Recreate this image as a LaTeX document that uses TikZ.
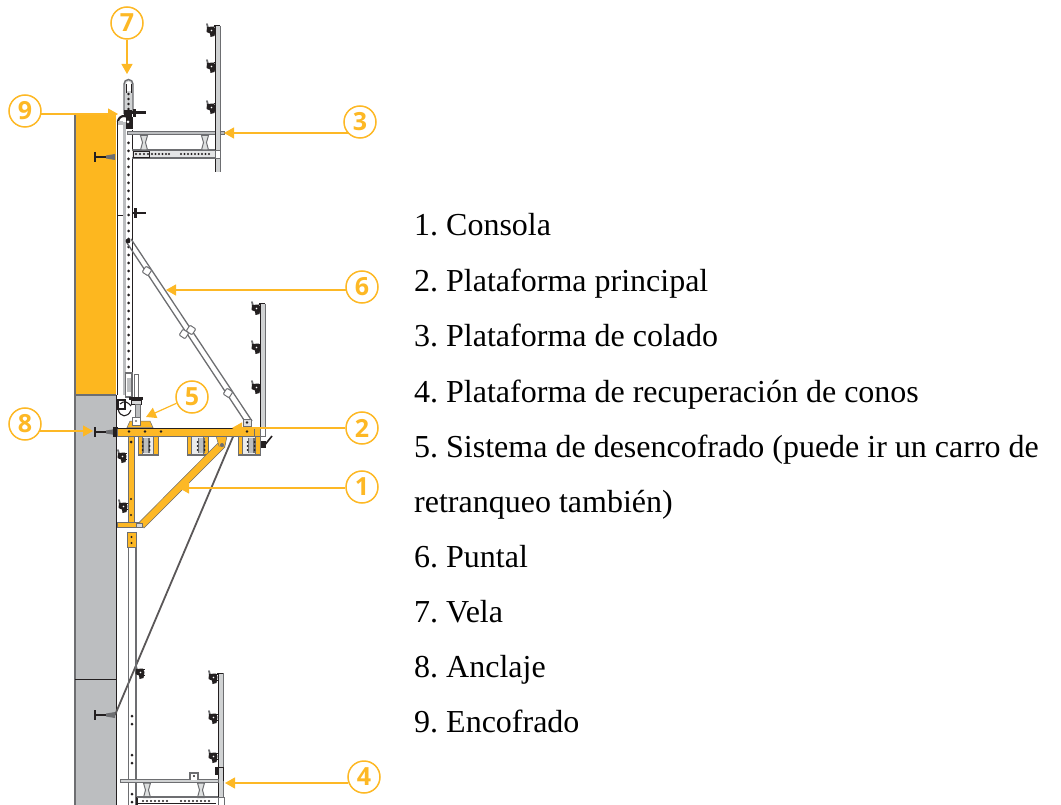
\documentclass[tikz,border=0pt]{standalone}
\usepackage{fontspec}
\setmainfont{Liberation Serif}
\newfontfamily\numfont{Open Sans}
\usetikzlibrary{arrows.meta}
\definecolor{accent}{HTML}{FDB825}
\definecolor{wallorange}{HTML}{FDB71F}
\definecolor{wallgrey}{HTML}{BCBEC0}
\definecolor{steel}{HTML}{6D6E71}
\definecolor{ink}{HTML}{231F20}
\tikzset{
  callout/.style={circle,draw=accent,line width=1.5pt,minimum size=32pt,inner sep=0pt,text=accent,font=\numfont\bfseries\fontsize{25}{25}\selectfont},
  leader/.style={draw=accent,line width=1.2pt,-{Triangle[length=10pt,width=11pt,fill=accent]}},
  legend/.style={anchor=base west,inner sep=0pt,font=\frenchspacing\fontsize{32}{33}\selectfont,text=black},
  steelline/.style={draw=steel,line width=1.1pt},
  orangepart/.style={fill=accent,draw=steel,line width=.5pt},
}
\newcommand{\clampmark}[2]{%
  \begin{scope}[shift={(#1,#2)}]
    \draw[steel,line width=1.8pt,line cap=round] (-4,-6) -- (-3,-2);
    \fill[ink] (-4,-3) -- (3,-3.5) -- (4.5,0) -- (3.5,6) -- (-.5,7) -- (-1,3.5) -- (-4.5,2) -- cycle;
    \fill[white] (.5,.5) circle (.9);
    \draw[ink,line width=1pt] (3,-3) -- (4.5,-3);
    \draw[ink,line width=1pt] (3,3) -- (4.5,3);
  \end{scope}}
\newcommand{\anchormark}[2]{%
  \begin{scope}[shift={(#1,#2)}]
    \draw[ink,line width=1.6pt] (0,-5) -- (0,5);
    \draw[ink,line width=1.6pt] (0,0) -- (12,0);
    \fill[steel] (11,-1.5) -- (20,-3) -- (20,3) -- (11,1.5) -- cycle;
  \end{scope}}
\newcommand{\railpanel}[3]{%
  \fill[wallgrey!70] (#1+.5,#2) rectangle (#1+4,#3);
  \draw[ink,line width=1pt] (#1,#2) -- (#1,#3);
  \draw[steel,line width=.8pt] (#1+4.5,#2) -- (#1+4.5,#3);
  \draw[ink,line width=1pt] (#1-1.5,#2) -- (#1+4.5,#2);
}
\newcommand{\ipost}[2]{%
  \draw[steel,fill=wallgrey!50,line width=1pt] (#1-3.5,#2) -- (#1+3.5,#2) -- (#1+1.5,#2+7) -- (#1+3.5,#2+14.5) -- (#1-3.5,#2+14.5) -- (#1-1.5,#2+7) -- cycle;}
\begin{document}
\begin{tikzpicture}[x=1pt,y=-1pt]
\useasboundingbox (0,0) rectangle (1061,805);
% wall
\fill[wallorange] (75,114) rectangle (116,395);
\fill[wallgrey] (75,395) rectangle (116,805);
\draw[steel,line width=1.4pt] (75,114) -- (75,805);
\draw[ink,line width=1pt] (75,114) -- (116,114);
\draw[steel,line width=1.1pt] (75,395) -- (116,395);
\draw[ink,line width=.7pt] (75,679) -- (116,679);
\draw[ink,line width=1.1pt] (116.5,395) -- (116.5,805);
% upper formwork skin
\draw[ink,line width=.9pt] (117,122) -- (117,395);
\fill[wallgrey] (122.5,122) rectangle (125.5,395);
\draw[ink,line width=.7pt] (117,215) -- (122.5,215);
% upper mast
\draw[ink,line width=1.1pt] (132.3,130) -- (132.3,395);
\foreach \y in {143,151,...,372} \fill[ink] (128.5,\y) circle (1.5);
% vela
\fill[wallgrey!70] (124,84) arc[start angle=180,end angle=360,radius=4.5] -- (133,114) -- (124,114) -- cycle;
\draw[steel,line width=1.4pt] (124,114) -- (124,84) arc[start angle=180,end angle=360,radius=4.5] -- (133,114);
\fill[white] (126,84) arc[start angle=180,end angle=360,radius=2.5] -- (131,91) -- (126,91) -- cycle;
\draw[ink,line width=.8pt] (131,84) -- (131,93);
\draw[ink,line width=.7pt] (126,84) -- (126,93);
\foreach \y in {94,99,104,109} \fill[ink] (128.5,\y) circle (1.4);
% top head
\fill[ink] (124,110) rectangle (132,117);
\fill[white] (117.5,120) rectangle (122.5,128);
\draw[ink,line width=2.2pt] (118,122) arc[start angle=180,end angle=360,radius=6];
\fill[wallgrey] (117.5,121) rectangle (123,125);
\fill[ink] (126,117) rectangle (132.5,129);
\fill[white] (128,122) circle (1.5);
\fill[ink] (132,111) rectangle (146,114);
\fill[ink] (133,109) rectangle (136,117);
% upper platform
\draw[steel,fill=wallgrey,line width=.7pt] (127,131.5) rectangle (224,134.5);
\railpanel{215.5}{26}{172}
\fill[white,draw=steel,line width=.8pt] (215,150) rectangle (220,158);
\clampmark{211}{30}\clampmark{211}{66}\clampmark{211}{107}
\fill[wallgrey!40] (132,150.5) rectangle (215,157.5);
\draw[steelline] (132,150) -- (215,150);
\draw[steelline] (132,158) -- (215,158);
\draw[ink,line width=.9pt] (133,151) rectangle (149,157);
\foreach \x in {136,140,144,148,152,155.5,159,162.5,166,169,181,184.5,188,191.5,195,198.5,202,205.5,209} \fill[ink] (\x,154) circle (1.1);
\ipost{144}{135.5}\ipost{205}{135.5}
% brace and lower parts of mast
\anchormark{95}{157}
\fill[ink] (133,212) rectangle (146,214);
\fill[ink] (134,208) rectangle (137,218);
% strut 6
\draw[steelline,line width=1.3pt] (131,239) -- (252,421);
\draw[steelline,line width=1.3pt] (127,243) -- (246,423);
\fill[ink] (128,241) circle (2.4);
\foreach \x/\y in {147/271,191/330,184/334,228/393}
  \draw[steel,fill=white,line width=1pt,rotate around={-33:(\x,\y)},rounded corners=1pt] (\x-3.5,\y-3.5) rectangle (\x+3.5,\y+3.5);
\fill[wallgrey!50,draw=steel,line width=.7pt] (243,419) rectangle (251,426);
\fill[ink] (247,422.5) circle (1.3);
% middle rail
\railpanel{260.5}{304}{428}
\clampmark{256}{308}\clampmark{256}{347}\clampmark{256}{387}
% mast shoe
\draw[steelline,fill=white] (125.5,373) rectangle (132,397);
\fill[wallgrey] (126.5,378) rectangle (131,392);
\draw[steelline,fill=white,line width=.9pt] (134,374) rectangle (138,397);
\fill[ink] (129,397) rectangle (143,400);
\fill[wallgrey!60,draw=ink,line width=.8pt] (131,400) rectangle (141,404);
\draw[ink,line width=1.3pt,fill=white] (118,400) rectangle (125,409);
\draw[ink,line width=1.1pt] (118,409) .. controls (120,418) and (128,418) .. (131,410);
\draw[ink,line width=1.1pt] (120,404) .. controls (124,400) and (128,402) .. (131,406);
\fill[wallgrey,draw=steel,line width=.8pt] (135,404) rectangle (140,418);
% cable
\draw[ink!75,line width=1.8pt] (235,432) -- (115,715);
\anchormark{95}{715}
\anchormark{95}{432}
\fill[ink] (113,427) rectangle (118,437);
% lower column
\draw[steel,line width=.8pt] (128,547) -- (128,805);
\draw[steel,line width=1.1pt] (136,547) -- (136,805);
\foreach \y in {716,724,755,763,794,802} \fill[ink] (132,\y) circle (1.5);
\clampmark{140}{672}
% main platform orange
\foreach \a/\b/\c in {138/158/146,187/208/201,238/260/251}{
  \fill[wallgrey!30] (\a,436) rectangle (\b,455);
  \draw[orangepart] (\a,436) rectangle (\a+4.5,455);
  \draw[orangepart] (\b-4.5,436) rectangle (\b,455);
  \draw[steel,line width=1.1pt] (\a,455) -- (\b,455);
  \fill[steel] (\c-3.5,438) rectangle (\c+3.5,453);
  \fill[wallgrey] (\c-1.6,438) rectangle (\c+1.6,453);
  \foreach \y in {442,446,450} \fill[ink] (\c-3.5,\y) circle (1) (\c+3.5,\y) circle (1);
}
\draw[orangepart] (128,436) rectangle (134,523);
\draw[orangepart] (117,522) rectangle (140,527);
\draw[orangepart] (139.5,522) -- (219,442) -- (225,447) -- (144,528) -- cycle;
\draw[orangepart] (216,436) -- (227,436) -- (225,446) -- (219,446) -- cycle;
\fill[steel] (222,445) circle (2);
\draw[orangepart] (117,428) rectangle (260,436);
\draw[ink,line width=1pt] (117,428) -- (260,428);
\foreach \x in {129,145,161,247} \fill[ink] (\x,431.5) circle (1.4);
\draw[orangepart] (127,532) rectangle (136,547);
\foreach \y in {537,543} \fill[ink] (131.5,\y) circle (1.1);
\fill[ink] (131,515) circle (1.1);
\fill[ink] (131,499) circle (1.1);
\fill[ink] (131,442) circle (1.5);
\draw[steel,fill=wallgrey!60,line width=.8pt] (136,523) rectangle (142,527);
\draw[orangepart] (127,427.5) -- (130,421) -- (150,421) -- (153,427.5) -- cycle;
\fill[white,draw=steel,line width=.8pt] (132,417) rectangle (140,425);
\fill[steel] (136,421) circle (1.2);
\clampmark{122}{456}\clampmark{123}{506}
\draw[steel,line width=1pt] (254,428) rectangle (265,436);
\draw[ink,line width=1.6pt] (264,446) -- (272,436);
\fill[ink] (261,441) rectangle (266,448);
% lower platform
\railpanel{218.5}{673}{805}
\clampmark{213}{677}\clampmark{213}{717}\clampmark{213}{756}
\draw[ink,line width=1pt] (215,767) -- (223,767) -- (223,781);
\fill[ink] (215,767) rectangle (218,775);
\fill[wallgrey!70,draw=steel,line width=.9pt] (120,779.5) rectangle (218,782.5);
\draw[steelline,fill=white] (190,780) -- (190,773) -- (198,773) -- (198,780);
\fill[ink] (194,776) circle (1.1);
\ipost{147}{783}\ipost{201}{783}
\draw[ink,line width=1.1pt] (137,797) -- (137,805);
\draw[steelline] (137,797) -- (218,797);
\draw[ink,line width=.9pt] (137,803.5) -- (216,803.5);
\foreach \x in {143,147,...,170,181,185,...,210} \fill[ink] (\x,801) circle (1.1);
\fill[white,draw=steel,line width=.9pt] (218,797) rectangle (224,805);
% callouts
\node[callout] (c7) at (127,23) {7};
\node[callout] (c9) at (25,111) {9};
\node[callout] (c3) at (360,122) {3};
\node[callout] (c6) at (362,287) {6};
\node[callout] (c5) at (192,397) {5};
\node[callout] (c2) at (362,428) {2};
\node[callout] (c1) at (362,487) {1};
\node[callout] (c8) at (25,424) {8};
\node[callout] (c4) at (364,777) {4};
\coordinate (t7) at (127,74);
\coordinate (t9) at (118,114);
\coordinate (t3) at (224,133);
\coordinate (t6) at (166,290);
\coordinate (t5) at (146,417);
\coordinate (t2) at (232,428);
\coordinate (t1) at (179,488);
\coordinate (t8) at (93,431);
\coordinate (t4) at (225,783);
\draw[leader] (c7.south) -- (t7);
\draw[leader] (c9.-10 |- t9) -- (t9);
\draw[leader] (c3.223 |- t3) -- (t3);
\draw[leader] (c6.190 |- t6) -- (t6);
\draw[leader] (c5.202) -- (t5);
\draw[leader] (c2.180) -- (t2);
\draw[leader] (c1.184 |- t1) -- (t1);
\draw[leader] (c8.-26 |- t8) -- (t8);
\draw[leader] (c4.202 |- t4) -- (t4);
% legend
\node[legend] (l1) at (414,236) {1. Consola};
\node[legend] (l2) at (414,291) {2. Plataforma principal};
\node[legend] (l3) at (414,346) {3. Plataforma de colado};
\node[legend] (l4) at (414,402) {4. Plataforma de recuperación de conos};
\node[legend] (l5) at (414,457) {5. Sistema de desencofrado (puede ir un carro de};
\node[legend] (l5b) at (414,512) {retranqueo también)};
\node[legend] (l6) at (414,567) {6. Puntal};
\node[legend] (l7) at (414,622) {7. Vela};
\node[legend] (l8) at (414,677) {8. Anclaje};
\node[legend] (l9) at (414,732) {9. Encofrado};
\end{tikzpicture}
\end{document}
